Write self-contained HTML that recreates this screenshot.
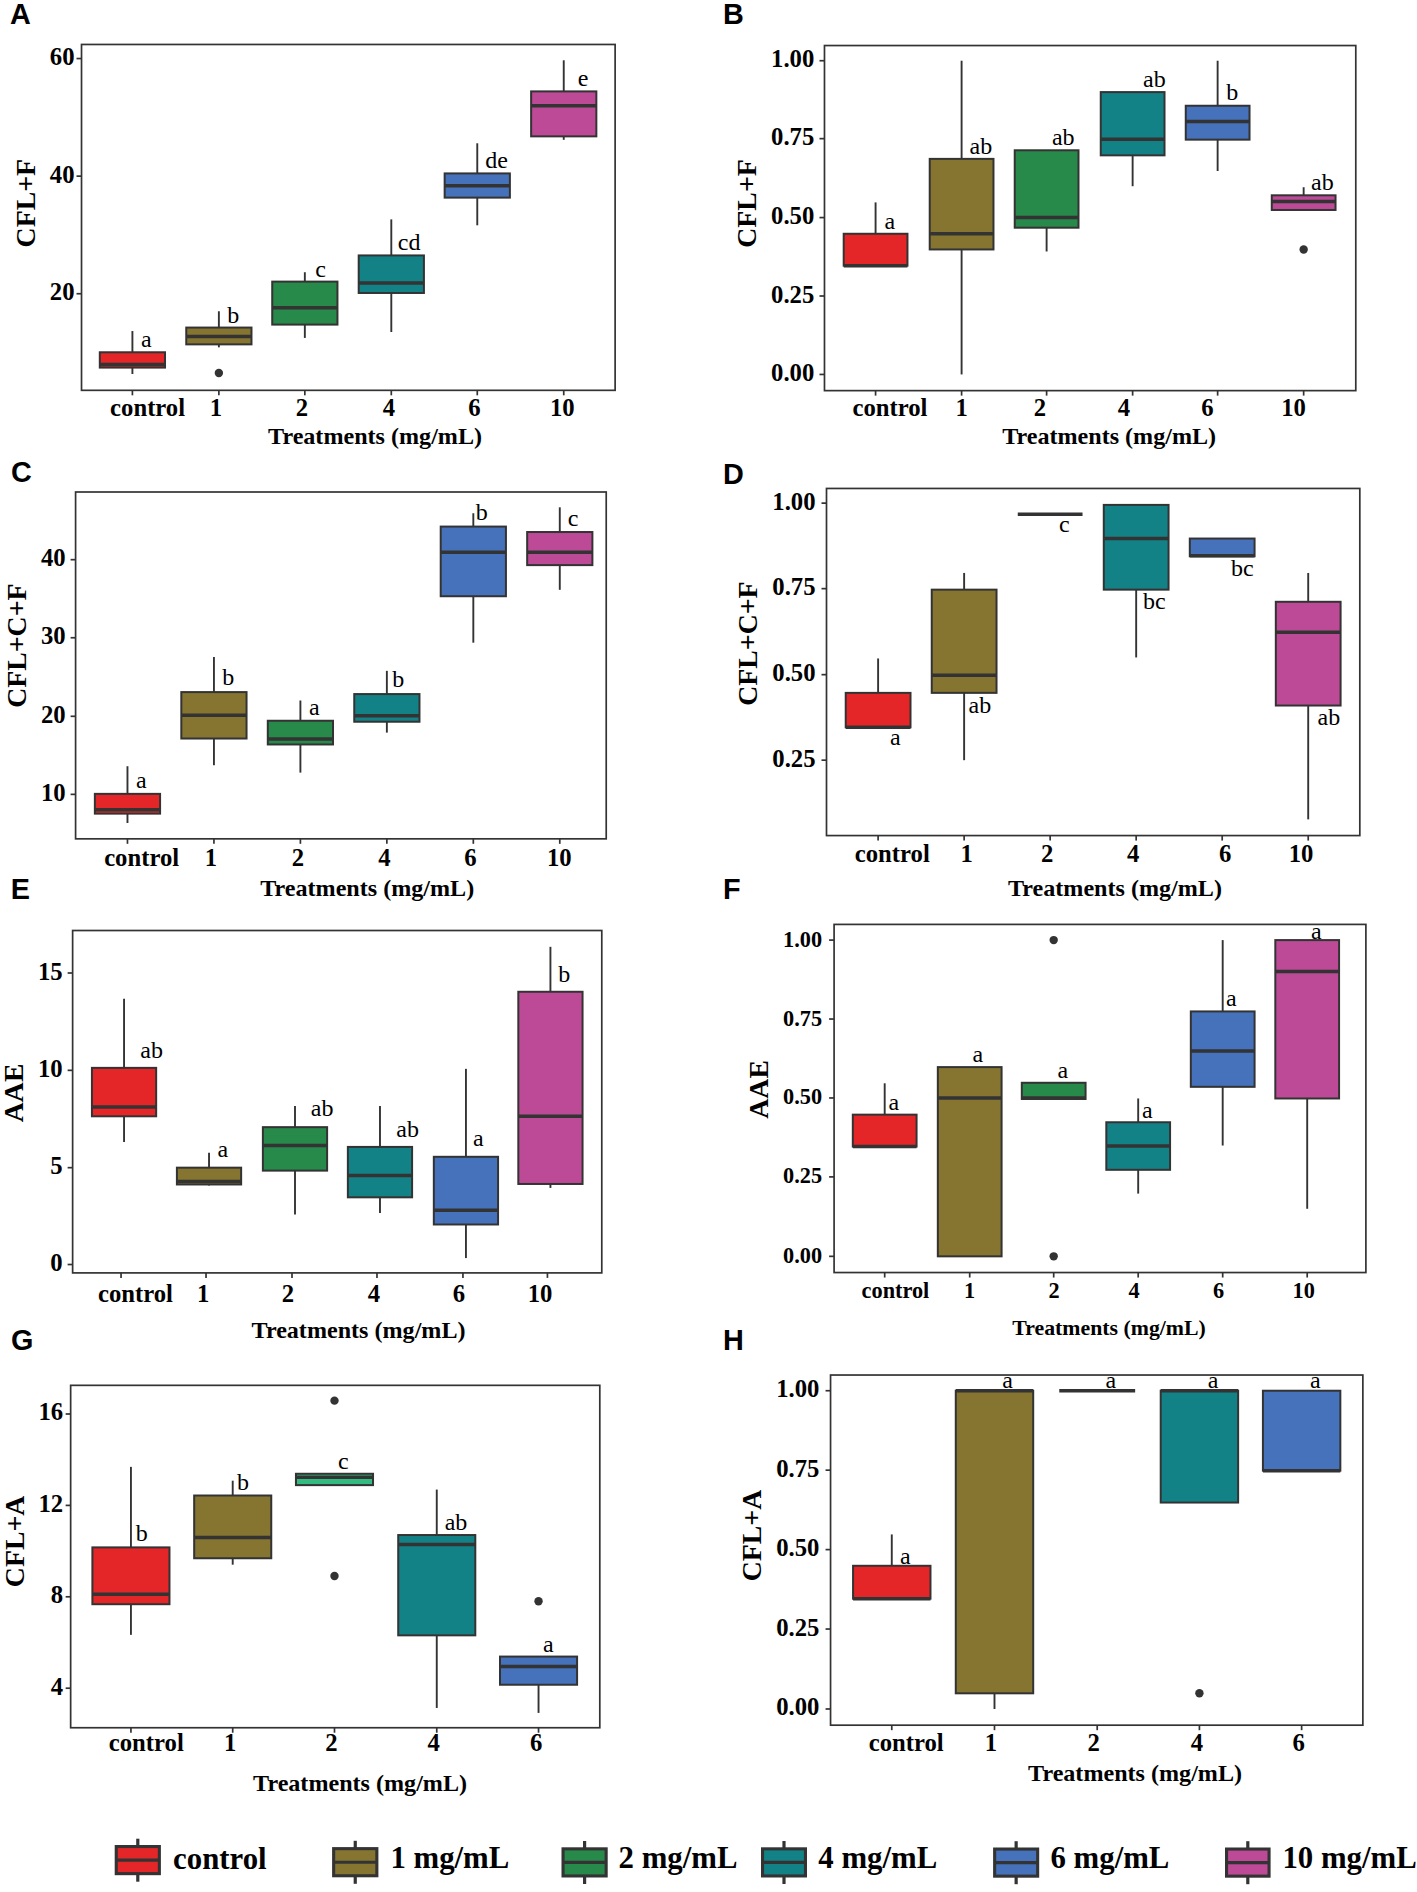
<!DOCTYPE html>
<html><head><meta charset="utf-8"><style>
html,body{margin:0;padding:0;background:#fff;}
svg{display:block;}
.tk{font-family:"Liberation Serif",serif;font-weight:bold;font-size:23.5px;fill:#000;}
.lt{font-family:"Liberation Serif",serif;font-size:24px;fill:#000;}
.tt{font-family:"Liberation Serif",serif;font-weight:bold;font-size:23.7px;fill:#000;}
.yt{font-family:"Liberation Serif",serif;font-weight:bold;font-size:27.8px;fill:#000;}
.pl{font-family:"Liberation Sans",sans-serif;font-weight:bold;font-size:28.8px;fill:#000;}
.lg{font-family:"Liberation Serif",serif;font-weight:bold;font-size:30.8px;fill:#000;}
</style></head><body>
<svg width="1417" height="1892" viewBox="0 0 1417 1892">
<rect width="1417" height="1892" fill="#fff"/>
<line x1="132.41" y1="367.59" x2="132.41" y2="374.01" stroke="#333333" stroke-width="1.9"/>
<line x1="132.41" y1="352.27" x2="132.41" y2="331.03" stroke="#333333" stroke-width="1.9"/>
<rect x="99.80" y="352.27" width="65.22" height="15.32" fill="#E52629" stroke="#333333" stroke-width="2"/>
<line x1="99.80" y1="364.62" x2="165.02" y2="364.62" stroke="#333333" stroke-width="3.5"/>
<line x1="218.87" y1="344.37" x2="218.87" y2="347.33" stroke="#333333" stroke-width="1.9"/>
<line x1="218.87" y1="327.57" x2="218.87" y2="311.26" stroke="#333333" stroke-width="1.9"/>
<rect x="186.26" y="327.57" width="65.22" height="16.80" fill="#857531" stroke="#333333" stroke-width="2"/>
<line x1="186.26" y1="336.46" x2="251.48" y2="336.46" stroke="#333333" stroke-width="3.5"/>
<circle cx="218.87" cy="373.02" r="4.2" fill="#333333"/>
<line x1="304.84" y1="324.60" x2="304.84" y2="337.94" stroke="#333333" stroke-width="1.9"/>
<line x1="304.84" y1="281.62" x2="304.84" y2="272.23" stroke="#333333" stroke-width="1.9"/>
<rect x="272.23" y="281.62" width="65.22" height="42.98" fill="#27894A" stroke="#333333" stroke-width="2"/>
<line x1="272.23" y1="307.81" x2="337.45" y2="307.81" stroke="#333333" stroke-width="3.5"/>
<line x1="391.30" y1="292.98" x2="391.30" y2="332.02" stroke="#333333" stroke-width="1.9"/>
<line x1="391.30" y1="255.43" x2="391.30" y2="219.37" stroke="#333333" stroke-width="1.9"/>
<rect x="358.70" y="255.43" width="65.22" height="37.55" fill="#138287" stroke="#333333" stroke-width="2"/>
<line x1="358.70" y1="283.10" x2="423.91" y2="283.10" stroke="#333333" stroke-width="3.5"/>
<line x1="477.27" y1="197.63" x2="477.27" y2="225.30" stroke="#333333" stroke-width="1.9"/>
<line x1="477.27" y1="173.42" x2="477.27" y2="143.28" stroke="#333333" stroke-width="1.9"/>
<rect x="444.66" y="173.42" width="65.22" height="24.21" fill="#4672BB" stroke="#333333" stroke-width="2"/>
<line x1="444.66" y1="185.77" x2="509.88" y2="185.77" stroke="#333333" stroke-width="3.5"/>
<line x1="563.74" y1="136.36" x2="563.74" y2="139.82" stroke="#333333" stroke-width="1.9"/>
<line x1="563.74" y1="91.40" x2="563.74" y2="60.28" stroke="#333333" stroke-width="1.9"/>
<rect x="531.13" y="91.40" width="65.22" height="44.96" fill="#BD4A96" stroke="#333333" stroke-width="2"/>
<line x1="531.13" y1="105.73" x2="596.34" y2="105.73" stroke="#333333" stroke-width="3.5"/>
<rect x="81.52" y="44.47" width="533.60" height="345.85" fill="none" stroke="#333333" stroke-width="1.7"/>
<line x1="76.52" y1="58.55" x2="81.52" y2="58.55" stroke="#333333" stroke-width="1.7"/>
<text x="74.50" y="65.05" class="tk" style="font-size:24.7px" text-anchor="end">60</text>
<line x1="76.52" y1="176.14" x2="81.52" y2="176.14" stroke="#333333" stroke-width="1.7"/>
<text x="74.50" y="182.64" class="tk" style="font-size:24.7px" text-anchor="end">40</text>
<line x1="76.52" y1="293.73" x2="81.52" y2="293.73" stroke="#333333" stroke-width="1.7"/>
<text x="74.50" y="300.23" class="tk" style="font-size:24.7px" text-anchor="end">20</text>
<line x1="132.41" y1="390.32" x2="132.41" y2="395.32" stroke="#333333" stroke-width="1.7"/>
<line x1="218.87" y1="390.32" x2="218.87" y2="395.32" stroke="#333333" stroke-width="1.7"/>
<line x1="304.84" y1="390.32" x2="304.84" y2="395.32" stroke="#333333" stroke-width="1.7"/>
<line x1="391.30" y1="390.32" x2="391.30" y2="395.32" stroke="#333333" stroke-width="1.7"/>
<line x1="477.27" y1="390.32" x2="477.27" y2="395.32" stroke="#333333" stroke-width="1.7"/>
<line x1="563.74" y1="390.32" x2="563.74" y2="395.32" stroke="#333333" stroke-width="1.7"/>
<text x="110.10" y="416.20" class="tk" style="font-size:24.7px">control</text>
<text x="215.91" y="416.20" class="tk" style="font-size:24.7px" text-anchor="middle">1</text>
<text x="301.88" y="416.20" class="tk" style="font-size:24.7px" text-anchor="middle">2</text>
<text x="388.83" y="416.20" class="tk" style="font-size:24.7px" text-anchor="middle">4</text>
<text x="474.31" y="416.20" class="tk" style="font-size:24.7px" text-anchor="middle">6</text>
<text x="562.25" y="416.20" class="tk" style="font-size:24.7px" text-anchor="middle">10</text>
<text x="146.25" y="346.85" class="lt" text-anchor="middle">a</text>
<text x="233.20" y="323.13" class="lt" text-anchor="middle">b</text>
<text x="320.65" y="276.69" class="lt" text-anchor="middle">c</text>
<text x="409.09" y="250.01" class="lt" text-anchor="middle">cd</text>
<text x="496.54" y="168.00" class="lt" text-anchor="middle">de</text>
<text x="583.00" y="85.98" class="lt" text-anchor="middle">e</text>
<text x="268.10" y="444.00" class="tt" style="font-size:24.1px">Treatments (mg/mL)</text>
<text transform="translate(35.00,203.20) rotate(-90)" class="yt" text-anchor="middle">CFL+F</text>
<text x="10.00" y="24.10" class="pl">A</text>
<line x1="875.58" y1="233.77" x2="875.58" y2="202.40" stroke="#333333" stroke-width="1.9"/>
<rect x="843.70" y="233.77" width="63.76" height="31.88" fill="#E52629" stroke="#333333" stroke-width="2"/>
<line x1="843.70" y1="265.65" x2="907.46" y2="265.65" stroke="#333333" stroke-width="3.5"/>
<line x1="961.60" y1="249.46" x2="961.60" y2="374.44" stroke="#333333" stroke-width="1.9"/>
<line x1="961.60" y1="158.88" x2="961.60" y2="60.72" stroke="#333333" stroke-width="1.9"/>
<rect x="929.72" y="158.88" width="63.76" height="90.57" fill="#857531" stroke="#333333" stroke-width="2"/>
<line x1="929.72" y1="233.77" x2="993.48" y2="233.77" stroke="#333333" stroke-width="3.5"/>
<line x1="1046.61" y1="227.70" x2="1046.61" y2="251.48" stroke="#333333" stroke-width="1.9"/>
<rect x="1014.73" y="150.28" width="63.76" height="77.42" fill="#27894A" stroke="#333333" stroke-width="2"/>
<line x1="1014.73" y1="217.58" x2="1078.49" y2="217.58" stroke="#333333" stroke-width="3.5"/>
<line x1="1132.63" y1="155.34" x2="1132.63" y2="186.21" stroke="#333333" stroke-width="1.9"/>
<rect x="1100.75" y="92.09" width="63.76" height="63.25" fill="#138287" stroke="#333333" stroke-width="2"/>
<line x1="1100.75" y1="139.15" x2="1164.50" y2="139.15" stroke="#333333" stroke-width="3.5"/>
<line x1="1217.63" y1="139.65" x2="1217.63" y2="171.03" stroke="#333333" stroke-width="1.9"/>
<line x1="1217.63" y1="105.75" x2="1217.63" y2="60.72" stroke="#333333" stroke-width="1.9"/>
<rect x="1185.76" y="105.75" width="63.76" height="33.90" fill="#4672BB" stroke="#333333" stroke-width="2"/>
<line x1="1185.76" y1="121.44" x2="1249.51" y2="121.44" stroke="#333333" stroke-width="3.5"/>
<line x1="1303.65" y1="195.31" x2="1303.65" y2="187.22" stroke="#333333" stroke-width="1.9"/>
<rect x="1271.78" y="195.31" width="63.76" height="14.67" fill="#BD4A96" stroke="#333333" stroke-width="2"/>
<line x1="1271.78" y1="201.39" x2="1335.53" y2="201.39" stroke="#333333" stroke-width="3.5"/>
<circle cx="1303.65" cy="249.46" r="4.2" fill="#333333"/>
<rect x="824.48" y="45.54" width="531.30" height="345.09" fill="none" stroke="#333333" stroke-width="1.7"/>
<line x1="819.48" y1="60.72" x2="824.48" y2="60.72" stroke="#333333" stroke-width="1.7"/>
<text x="814.30" y="67.22" class="tk" style="font-size:24.7px" text-anchor="end">1.00</text>
<line x1="819.48" y1="138.64" x2="824.48" y2="138.64" stroke="#333333" stroke-width="1.7"/>
<text x="814.30" y="145.14" class="tk" style="font-size:24.7px" text-anchor="end">0.75</text>
<line x1="819.48" y1="217.58" x2="824.48" y2="217.58" stroke="#333333" stroke-width="1.7"/>
<text x="814.30" y="224.08" class="tk" style="font-size:24.7px" text-anchor="end">0.50</text>
<line x1="819.48" y1="296.01" x2="824.48" y2="296.01" stroke="#333333" stroke-width="1.7"/>
<text x="814.30" y="302.51" class="tk" style="font-size:24.7px" text-anchor="end">0.25</text>
<line x1="819.48" y1="374.44" x2="824.48" y2="374.44" stroke="#333333" stroke-width="1.7"/>
<text x="814.30" y="380.94" class="tk" style="font-size:24.7px" text-anchor="end">0.00</text>
<line x1="875.58" y1="390.63" x2="875.58" y2="395.63" stroke="#333333" stroke-width="1.7"/>
<line x1="961.60" y1="390.63" x2="961.60" y2="395.63" stroke="#333333" stroke-width="1.7"/>
<line x1="1046.61" y1="390.63" x2="1046.61" y2="395.63" stroke="#333333" stroke-width="1.7"/>
<line x1="1132.63" y1="390.63" x2="1132.63" y2="395.63" stroke="#333333" stroke-width="1.7"/>
<line x1="1217.63" y1="390.63" x2="1217.63" y2="395.63" stroke="#333333" stroke-width="1.7"/>
<line x1="1303.65" y1="390.63" x2="1303.65" y2="395.63" stroke="#333333" stroke-width="1.7"/>
<text x="852.50" y="416.10" class="tk" style="font-size:24.7px">control</text>
<text x="961.60" y="416.10" class="tk" style="font-size:24.7px" text-anchor="middle">1</text>
<text x="1040.03" y="416.10" class="tk" style="font-size:24.7px" text-anchor="middle">2</text>
<text x="1124.02" y="416.10" class="tk" style="font-size:24.7px" text-anchor="middle">4</text>
<text x="1207.51" y="416.10" class="tk" style="font-size:24.7px" text-anchor="middle">6</text>
<text x="1293.53" y="416.10" class="tk" style="font-size:24.7px" text-anchor="middle">10</text>
<text x="889.75" y="228.70" class="lt" text-anchor="middle">a</text>
<text x="980.83" y="153.81" class="lt" text-anchor="middle">ab</text>
<text x="1063.31" y="144.70" class="lt" text-anchor="middle">ab</text>
<text x="1154.38" y="87.02" class="lt" text-anchor="middle">ab</text>
<text x="1232.31" y="99.67" class="lt" text-anchor="middle">b</text>
<text x="1322.38" y="190.24" class="lt" text-anchor="middle">ab</text>
<text x="1002.20" y="444.00" class="tt" style="font-size:24.1px">Treatments (mg/mL)</text>
<text transform="translate(756.20,203.50) rotate(-90)" class="yt" text-anchor="middle">CFL+F</text>
<text x="722.90" y="24.10" class="pl">B</text>
<line x1="127.47" y1="813.64" x2="127.47" y2="823.02" stroke="#333333" stroke-width="1.9"/>
<line x1="127.47" y1="793.87" x2="127.47" y2="766.21" stroke="#333333" stroke-width="1.9"/>
<rect x="94.86" y="793.87" width="65.22" height="19.76" fill="#E52629" stroke="#333333" stroke-width="2"/>
<line x1="94.86" y1="809.68" x2="160.08" y2="809.68" stroke="#333333" stroke-width="3.5"/>
<line x1="213.93" y1="738.54" x2="213.93" y2="765.22" stroke="#333333" stroke-width="1.9"/>
<line x1="213.93" y1="692.09" x2="213.93" y2="657.02" stroke="#333333" stroke-width="1.9"/>
<rect x="181.32" y="692.09" width="65.22" height="46.44" fill="#857531" stroke="#333333" stroke-width="2"/>
<line x1="181.32" y1="715.32" x2="246.54" y2="715.32" stroke="#333333" stroke-width="3.5"/>
<line x1="300.40" y1="744.47" x2="300.40" y2="772.63" stroke="#333333" stroke-width="1.9"/>
<line x1="300.40" y1="720.75" x2="300.40" y2="700.49" stroke="#333333" stroke-width="1.9"/>
<rect x="267.79" y="720.75" width="65.22" height="23.72" fill="#27894A" stroke="#333333" stroke-width="2"/>
<line x1="267.79" y1="739.03" x2="333.00" y2="739.03" stroke="#333333" stroke-width="3.5"/>
<line x1="386.86" y1="721.74" x2="386.86" y2="732.61" stroke="#333333" stroke-width="1.9"/>
<line x1="386.86" y1="694.07" x2="386.86" y2="670.85" stroke="#333333" stroke-width="1.9"/>
<rect x="354.25" y="694.07" width="65.22" height="27.67" fill="#138287" stroke="#333333" stroke-width="2"/>
<line x1="354.25" y1="715.81" x2="419.47" y2="715.81" stroke="#333333" stroke-width="3.5"/>
<line x1="473.32" y1="596.25" x2="473.32" y2="642.69" stroke="#333333" stroke-width="1.9"/>
<line x1="473.32" y1="526.58" x2="473.32" y2="513.24" stroke="#333333" stroke-width="1.9"/>
<rect x="440.71" y="526.58" width="65.22" height="69.66" fill="#4672BB" stroke="#333333" stroke-width="2"/>
<line x1="440.71" y1="552.27" x2="505.93" y2="552.27" stroke="#333333" stroke-width="3.5"/>
<line x1="559.78" y1="565.12" x2="559.78" y2="589.82" stroke="#333333" stroke-width="1.9"/>
<line x1="559.78" y1="532.02" x2="559.78" y2="507.31" stroke="#333333" stroke-width="1.9"/>
<rect x="527.17" y="532.02" width="65.22" height="33.10" fill="#BD4A96" stroke="#333333" stroke-width="2"/>
<line x1="527.17" y1="552.27" x2="592.39" y2="552.27" stroke="#333333" stroke-width="3.5"/>
<rect x="75.59" y="492.00" width="530.63" height="346.84" fill="none" stroke="#333333" stroke-width="1.7"/>
<line x1="70.59" y1="559.68" x2="75.59" y2="559.68" stroke="#333333" stroke-width="1.7"/>
<text x="65.60" y="566.18" class="tk" style="font-size:24.7px" text-anchor="end">40</text>
<line x1="70.59" y1="637.75" x2="75.59" y2="637.75" stroke="#333333" stroke-width="1.7"/>
<text x="65.60" y="644.25" class="tk" style="font-size:24.7px" text-anchor="end">30</text>
<line x1="70.59" y1="716.30" x2="75.59" y2="716.30" stroke="#333333" stroke-width="1.7"/>
<text x="65.60" y="722.80" class="tk" style="font-size:24.7px" text-anchor="end">20</text>
<line x1="70.59" y1="794.37" x2="75.59" y2="794.37" stroke="#333333" stroke-width="1.7"/>
<text x="65.60" y="800.87" class="tk" style="font-size:24.7px" text-anchor="end">10</text>
<line x1="127.47" y1="838.83" x2="127.47" y2="843.83" stroke="#333333" stroke-width="1.7"/>
<line x1="213.93" y1="838.83" x2="213.93" y2="843.83" stroke="#333333" stroke-width="1.7"/>
<line x1="300.40" y1="838.83" x2="300.40" y2="843.83" stroke="#333333" stroke-width="1.7"/>
<line x1="386.86" y1="838.83" x2="386.86" y2="843.83" stroke="#333333" stroke-width="1.7"/>
<line x1="473.32" y1="838.83" x2="473.32" y2="843.83" stroke="#333333" stroke-width="1.7"/>
<line x1="559.78" y1="838.83" x2="559.78" y2="843.83" stroke="#333333" stroke-width="1.7"/>
<text x="104.15" y="865.70" class="tk" style="font-size:24.7px">control</text>
<text x="210.97" y="865.70" class="tk" style="font-size:24.7px" text-anchor="middle">1</text>
<text x="297.92" y="865.70" class="tk" style="font-size:24.7px" text-anchor="middle">2</text>
<text x="384.39" y="865.70" class="tk" style="font-size:24.7px" text-anchor="middle">4</text>
<text x="470.36" y="865.70" class="tk" style="font-size:24.7px" text-anchor="middle">6</text>
<text x="559.29" y="865.70" class="tk" style="font-size:24.7px" text-anchor="middle">10</text>
<text x="141.30" y="787.96" class="lt" text-anchor="middle">a</text>
<text x="228.26" y="685.19" class="lt" text-anchor="middle">b</text>
<text x="314.23" y="714.83" class="lt" text-anchor="middle">a</text>
<text x="398.22" y="687.17" class="lt" text-anchor="middle">b</text>
<text x="481.72" y="520.17" class="lt" text-anchor="middle">b</text>
<text x="573.12" y="526.10" class="lt" text-anchor="middle">c</text>
<text x="260.30" y="896.10" class="tt" style="font-size:24.1px">Treatments (mg/mL)</text>
<text transform="translate(25.90,645.70) rotate(-90)" class="yt" text-anchor="middle">CFL+C+F</text>
<text x="11.00" y="482.30" class="pl">C</text>
<line x1="878.11" y1="692.88" x2="878.11" y2="658.47" stroke="#333333" stroke-width="1.9"/>
<rect x="845.73" y="692.88" width="64.77" height="34.41" fill="#E52629" stroke="#333333" stroke-width="2"/>
<line x1="845.73" y1="727.29" x2="910.49" y2="727.29" stroke="#333333" stroke-width="3.5"/>
<line x1="964.13" y1="692.88" x2="964.13" y2="760.18" stroke="#333333" stroke-width="1.9"/>
<line x1="964.13" y1="589.65" x2="964.13" y2="572.96" stroke="#333333" stroke-width="1.9"/>
<rect x="931.75" y="589.65" width="64.77" height="103.22" fill="#857531" stroke="#333333" stroke-width="2"/>
<line x1="931.75" y1="675.17" x2="996.51" y2="675.17" stroke="#333333" stroke-width="3.5"/>
<line x1="1017.77" y1="514.26" x2="1082.53" y2="514.26" stroke="#333333" stroke-width="3.5"/>
<line x1="1136.17" y1="589.65" x2="1136.17" y2="657.46" stroke="#333333" stroke-width="1.9"/>
<rect x="1103.78" y="504.90" width="64.77" height="84.75" fill="#138287" stroke="#333333" stroke-width="2"/>
<line x1="1103.78" y1="538.55" x2="1168.55" y2="538.55" stroke="#333333" stroke-width="3.5"/>
<rect x="1189.80" y="538.55" width="64.77" height="17.71" fill="#4672BB" stroke="#333333" stroke-width="2"/>
<line x1="1189.80" y1="555.75" x2="1254.57" y2="555.75" stroke="#333333" stroke-width="3.5"/>
<line x1="1308.21" y1="705.53" x2="1308.21" y2="819.38" stroke="#333333" stroke-width="1.9"/>
<line x1="1308.21" y1="601.80" x2="1308.21" y2="572.96" stroke="#333333" stroke-width="1.9"/>
<rect x="1275.82" y="601.80" width="64.77" height="103.73" fill="#BD4A96" stroke="#333333" stroke-width="2"/>
<line x1="1275.82" y1="632.16" x2="1340.59" y2="632.16" stroke="#333333" stroke-width="3.5"/>
<rect x="826.50" y="488.46" width="533.32" height="347.11" fill="none" stroke="#333333" stroke-width="1.7"/>
<line x1="821.50" y1="503.13" x2="826.50" y2="503.13" stroke="#333333" stroke-width="1.7"/>
<text x="815.50" y="509.63" class="tk" style="font-size:24.7px" text-anchor="end">1.00</text>
<line x1="821.50" y1="588.64" x2="826.50" y2="588.64" stroke="#333333" stroke-width="1.7"/>
<text x="815.50" y="595.14" class="tk" style="font-size:24.7px" text-anchor="end">0.75</text>
<line x1="821.50" y1="674.66" x2="826.50" y2="674.66" stroke="#333333" stroke-width="1.7"/>
<text x="815.50" y="681.16" class="tk" style="font-size:24.7px" text-anchor="end">0.50</text>
<line x1="821.50" y1="760.18" x2="826.50" y2="760.18" stroke="#333333" stroke-width="1.7"/>
<text x="815.50" y="766.68" class="tk" style="font-size:24.7px" text-anchor="end">0.25</text>
<line x1="878.11" y1="835.57" x2="878.11" y2="840.57" stroke="#333333" stroke-width="1.7"/>
<line x1="964.13" y1="835.57" x2="964.13" y2="840.57" stroke="#333333" stroke-width="1.7"/>
<line x1="1050.15" y1="835.57" x2="1050.15" y2="840.57" stroke="#333333" stroke-width="1.7"/>
<line x1="1136.17" y1="835.57" x2="1136.17" y2="840.57" stroke="#333333" stroke-width="1.7"/>
<line x1="1222.19" y1="835.57" x2="1222.19" y2="840.57" stroke="#333333" stroke-width="1.7"/>
<line x1="1308.21" y1="835.57" x2="1308.21" y2="840.57" stroke="#333333" stroke-width="1.7"/>
<text x="854.80" y="861.80" class="tk" style="font-size:24.7px">control</text>
<text x="966.66" y="861.80" class="tk" style="font-size:24.7px" text-anchor="middle">1</text>
<text x="1047.11" y="861.80" class="tk" style="font-size:24.7px" text-anchor="middle">2</text>
<text x="1133.13" y="861.80" class="tk" style="font-size:24.7px" text-anchor="middle">4</text>
<text x="1225.22" y="861.80" class="tk" style="font-size:24.7px" text-anchor="middle">6</text>
<text x="1301.12" y="861.80" class="tk" style="font-size:24.7px" text-anchor="middle">10</text>
<text x="895.31" y="745.49" class="lt" text-anchor="middle">a</text>
<text x="979.82" y="712.60" class="lt" text-anchor="middle">ab</text>
<text x="1064.32" y="531.96" class="lt" text-anchor="middle">c</text>
<text x="1154.38" y="608.87" class="lt" text-anchor="middle">bc</text>
<text x="1242.43" y="576.49" class="lt" text-anchor="middle">bc</text>
<text x="1328.95" y="725.25" class="lt" text-anchor="middle">ab</text>
<text x="1008.05" y="896.10" class="tt" style="font-size:24.1px">Treatments (mg/mL)</text>
<text transform="translate(756.60,643.60) rotate(-90)" class="yt" text-anchor="middle">CFL+C+F</text>
<text x="722.90" y="484.20" class="pl">D</text>
<line x1="124.05" y1="1116.28" x2="124.05" y2="1141.98" stroke="#333333" stroke-width="1.9"/>
<line x1="124.05" y1="1067.87" x2="124.05" y2="998.70" stroke="#333333" stroke-width="1.9"/>
<rect x="91.93" y="1067.87" width="64.23" height="48.42" fill="#E52629" stroke="#333333" stroke-width="2"/>
<line x1="91.93" y1="1106.90" x2="156.16" y2="1106.90" stroke="#333333" stroke-width="3.5"/>
<line x1="209.03" y1="1184.47" x2="209.03" y2="1185.45" stroke="#333333" stroke-width="1.9"/>
<line x1="209.03" y1="1167.67" x2="209.03" y2="1152.85" stroke="#333333" stroke-width="1.9"/>
<rect x="176.91" y="1167.67" width="64.23" height="16.80" fill="#857531" stroke="#333333" stroke-width="2"/>
<line x1="176.91" y1="1181.50" x2="241.14" y2="1181.50" stroke="#333333" stroke-width="3.5"/>
<line x1="295.00" y1="1170.63" x2="295.00" y2="1214.60" stroke="#333333" stroke-width="1.9"/>
<line x1="295.00" y1="1127.15" x2="295.00" y2="1105.91" stroke="#333333" stroke-width="1.9"/>
<rect x="262.88" y="1127.15" width="64.23" height="43.48" fill="#27894A" stroke="#333333" stroke-width="2"/>
<line x1="262.88" y1="1145.43" x2="327.11" y2="1145.43" stroke="#333333" stroke-width="3.5"/>
<line x1="379.98" y1="1197.31" x2="379.98" y2="1213.12" stroke="#333333" stroke-width="1.9"/>
<line x1="379.98" y1="1146.92" x2="379.98" y2="1105.91" stroke="#333333" stroke-width="1.9"/>
<rect x="347.86" y="1146.92" width="64.23" height="50.40" fill="#138287" stroke="#333333" stroke-width="2"/>
<line x1="347.86" y1="1175.57" x2="412.09" y2="1175.57" stroke="#333333" stroke-width="3.5"/>
<line x1="465.94" y1="1224.49" x2="465.94" y2="1258.08" stroke="#333333" stroke-width="1.9"/>
<line x1="465.94" y1="1156.80" x2="465.94" y2="1068.85" stroke="#333333" stroke-width="1.9"/>
<rect x="433.83" y="1156.80" width="64.23" height="67.69" fill="#4672BB" stroke="#333333" stroke-width="2"/>
<line x1="433.83" y1="1210.16" x2="498.06" y2="1210.16" stroke="#333333" stroke-width="3.5"/>
<line x1="550.43" y1="1183.97" x2="550.43" y2="1187.92" stroke="#333333" stroke-width="1.9"/>
<line x1="550.43" y1="991.78" x2="550.43" y2="946.82" stroke="#333333" stroke-width="1.9"/>
<rect x="518.32" y="991.78" width="64.23" height="192.19" fill="#BD4A96" stroke="#333333" stroke-width="2"/>
<line x1="518.32" y1="1116.28" x2="582.55" y2="1116.28" stroke="#333333" stroke-width="3.5"/>
<rect x="72.63" y="930.51" width="529.15" height="342.39" fill="none" stroke="#333333" stroke-width="1.7"/>
<line x1="67.63" y1="973.00" x2="72.63" y2="973.00" stroke="#333333" stroke-width="1.7"/>
<text x="62.70" y="979.50" class="tk" style="font-size:24.7px" text-anchor="end">15</text>
<line x1="67.63" y1="1070.34" x2="72.63" y2="1070.34" stroke="#333333" stroke-width="1.7"/>
<text x="62.70" y="1076.84" class="tk" style="font-size:24.7px" text-anchor="end">10</text>
<line x1="67.63" y1="1167.67" x2="72.63" y2="1167.67" stroke="#333333" stroke-width="1.7"/>
<text x="62.70" y="1174.17" class="tk" style="font-size:24.7px" text-anchor="end">5</text>
<line x1="67.63" y1="1264.51" x2="72.63" y2="1264.51" stroke="#333333" stroke-width="1.7"/>
<text x="62.70" y="1271.01" class="tk" style="font-size:24.7px" text-anchor="end">0</text>
<line x1="121.05" y1="1272.91" x2="121.05" y2="1277.91" stroke="#333333" stroke-width="1.7"/>
<line x1="206.03" y1="1272.91" x2="206.03" y2="1277.91" stroke="#333333" stroke-width="1.7"/>
<line x1="292.00" y1="1272.91" x2="292.00" y2="1277.91" stroke="#333333" stroke-width="1.7"/>
<line x1="376.98" y1="1272.91" x2="376.98" y2="1277.91" stroke="#333333" stroke-width="1.7"/>
<line x1="462.94" y1="1272.91" x2="462.94" y2="1277.91" stroke="#333333" stroke-width="1.7"/>
<line x1="547.43" y1="1272.91" x2="547.43" y2="1277.91" stroke="#333333" stroke-width="1.7"/>
<text x="98.00" y="1301.80" class="tk" style="font-size:24.7px">control</text>
<text x="203.06" y="1301.80" class="tk" style="font-size:24.7px" text-anchor="middle">1</text>
<text x="288.04" y="1301.80" class="tk" style="font-size:24.7px" text-anchor="middle">2</text>
<text x="374.01" y="1301.80" class="tk" style="font-size:24.7px" text-anchor="middle">4</text>
<text x="458.99" y="1301.80" class="tk" style="font-size:24.7px" text-anchor="middle">6</text>
<text x="540.02" y="1301.80" class="tk" style="font-size:24.7px" text-anchor="middle">10</text>
<text x="151.68" y="1057.50" class="lt" text-anchor="middle">ab</text>
<text x="222.83" y="1157.30" class="lt" text-anchor="middle">a</text>
<text x="322.13" y="1116.30" class="lt" text-anchor="middle">ab</text>
<text x="407.61" y="1136.55" class="lt" text-anchor="middle">ab</text>
<text x="478.26" y="1146.43" class="lt" text-anchor="middle">a</text>
<text x="564.23" y="981.91" class="lt" text-anchor="middle">b</text>
<text x="251.60" y="1338.10" class="tt" style="font-size:24.1px">Treatments (mg/mL)</text>
<text transform="translate(22.70,1092.90) rotate(-90)" class="yt" text-anchor="middle">AAE</text>
<text x="10.80" y="899.00" class="pl">E</text>
<line x1="884.69" y1="1114.66" x2="884.69" y2="1083.29" stroke="#333333" stroke-width="1.9"/>
<rect x="852.81" y="1114.66" width="63.76" height="31.88" fill="#E52629" stroke="#333333" stroke-width="2"/>
<line x1="852.81" y1="1146.54" x2="916.57" y2="1146.54" stroke="#333333" stroke-width="3.5"/>
<rect x="937.82" y="1067.10" width="63.76" height="189.24" fill="#857531" stroke="#333333" stroke-width="2"/>
<line x1="937.82" y1="1097.96" x2="1001.57" y2="1097.96" stroke="#333333" stroke-width="3.5"/>
<rect x="1021.81" y="1082.78" width="63.76" height="16.19" fill="#27894A" stroke="#333333" stroke-width="2"/>
<line x1="1021.81" y1="1097.96" x2="1085.57" y2="1097.96" stroke="#333333" stroke-width="3.5"/>
<circle cx="1053.69" cy="940.09" r="4.2" fill="#333333"/>
<circle cx="1053.69" cy="1256.34" r="4.2" fill="#333333"/>
<line x1="1138.19" y1="1169.82" x2="1138.19" y2="1193.60" stroke="#333333" stroke-width="1.9"/>
<line x1="1138.19" y1="1122.25" x2="1138.19" y2="1098.47" stroke="#333333" stroke-width="1.9"/>
<rect x="1106.31" y="1122.25" width="63.76" height="47.56" fill="#138287" stroke="#333333" stroke-width="2"/>
<line x1="1106.31" y1="1146.03" x2="1170.07" y2="1146.03" stroke="#333333" stroke-width="3.5"/>
<line x1="1222.69" y1="1086.83" x2="1222.69" y2="1145.53" stroke="#333333" stroke-width="1.9"/>
<line x1="1222.69" y1="1011.44" x2="1222.69" y2="940.09" stroke="#333333" stroke-width="1.9"/>
<rect x="1190.82" y="1011.44" width="63.76" height="75.39" fill="#4672BB" stroke="#333333" stroke-width="2"/>
<line x1="1190.82" y1="1050.91" x2="1254.57" y2="1050.91" stroke="#333333" stroke-width="3.5"/>
<line x1="1307.20" y1="1098.47" x2="1307.20" y2="1208.78" stroke="#333333" stroke-width="1.9"/>
<rect x="1275.32" y="940.09" width="63.76" height="158.38" fill="#BD4A96" stroke="#333333" stroke-width="2"/>
<line x1="1275.32" y1="971.47" x2="1339.07" y2="971.47" stroke="#333333" stroke-width="3.5"/>
<rect x="834.09" y="924.41" width="531.80" height="348.13" fill="none" stroke="#333333" stroke-width="1.7"/>
<line x1="829.09" y1="940.09" x2="834.09" y2="940.09" stroke="#333333" stroke-width="1.7"/>
<text x="822.10" y="946.59" class="tk" style="font-size:22.3px" text-anchor="end">1.00</text>
<line x1="829.09" y1="1019.03" x2="834.09" y2="1019.03" stroke="#333333" stroke-width="1.7"/>
<text x="822.10" y="1025.53" class="tk" style="font-size:22.3px" text-anchor="end">0.75</text>
<line x1="829.09" y1="1097.96" x2="834.09" y2="1097.96" stroke="#333333" stroke-width="1.7"/>
<text x="822.10" y="1104.46" class="tk" style="font-size:22.3px" text-anchor="end">0.50</text>
<line x1="829.09" y1="1176.90" x2="834.09" y2="1176.90" stroke="#333333" stroke-width="1.7"/>
<text x="822.10" y="1183.40" class="tk" style="font-size:22.3px" text-anchor="end">0.25</text>
<line x1="829.09" y1="1256.34" x2="834.09" y2="1256.34" stroke="#333333" stroke-width="1.7"/>
<text x="822.10" y="1262.84" class="tk" style="font-size:22.3px" text-anchor="end">0.00</text>
<line x1="884.69" y1="1272.53" x2="884.69" y2="1277.53" stroke="#333333" stroke-width="1.7"/>
<line x1="969.70" y1="1272.53" x2="969.70" y2="1277.53" stroke="#333333" stroke-width="1.7"/>
<line x1="1053.69" y1="1272.53" x2="1053.69" y2="1277.53" stroke="#333333" stroke-width="1.7"/>
<line x1="1138.19" y1="1272.53" x2="1138.19" y2="1277.53" stroke="#333333" stroke-width="1.7"/>
<line x1="1222.69" y1="1272.53" x2="1222.69" y2="1277.53" stroke="#333333" stroke-width="1.7"/>
<line x1="1307.20" y1="1272.53" x2="1307.20" y2="1277.53" stroke="#333333" stroke-width="1.7"/>
<text x="861.60" y="1298.20" class="tk" style="font-size:22.3px">control</text>
<text x="969.70" y="1298.20" class="tk" style="font-size:22.3px" text-anchor="middle">1</text>
<text x="1054.20" y="1298.20" class="tk" style="font-size:22.3px" text-anchor="middle">2</text>
<text x="1134.14" y="1298.20" class="tk" style="font-size:22.3px" text-anchor="middle">4</text>
<text x="1218.65" y="1298.20" class="tk" style="font-size:22.3px" text-anchor="middle">6</text>
<text x="1303.65" y="1298.20" class="tk" style="font-size:22.3px" text-anchor="middle">10</text>
<text x="893.80" y="1109.59" class="lt" text-anchor="middle">a</text>
<text x="977.79" y="1061.52" class="lt" text-anchor="middle">a</text>
<text x="1062.80" y="1077.71" class="lt" text-anchor="middle">a</text>
<text x="1147.30" y="1117.69" class="lt" text-anchor="middle">a</text>
<text x="1231.30" y="1006.37" class="lt" text-anchor="middle">a</text>
<text x="1316.30" y="938.56" class="lt" text-anchor="middle">a</text>
<text x="1012.30" y="1334.80" class="tt" style="font-size:21.8px">Treatments (mg/mL)</text>
<text transform="translate(767.70,1089.40) rotate(-90)" class="yt" text-anchor="middle">AAE</text>
<text x="722.90" y="898.80" class="pl">F</text>
<line x1="130.93" y1="1604.21" x2="130.93" y2="1634.84" stroke="#333333" stroke-width="1.9"/>
<line x1="130.93" y1="1547.39" x2="130.93" y2="1466.86" stroke="#333333" stroke-width="1.9"/>
<rect x="92.39" y="1547.39" width="77.08" height="56.82" fill="#E52629" stroke="#333333" stroke-width="2"/>
<line x1="92.39" y1="1594.33" x2="169.47" y2="1594.33" stroke="#333333" stroke-width="3.5"/>
<line x1="232.71" y1="1558.26" x2="232.71" y2="1564.68" stroke="#333333" stroke-width="1.9"/>
<line x1="232.71" y1="1495.51" x2="232.71" y2="1480.69" stroke="#333333" stroke-width="1.9"/>
<rect x="194.17" y="1495.51" width="77.08" height="62.75" fill="#857531" stroke="#333333" stroke-width="2"/>
<line x1="194.17" y1="1537.51" x2="271.25" y2="1537.51" stroke="#333333" stroke-width="3.5"/>
<rect x="295.95" y="1473.77" width="77.08" height="11.36" fill="#34BC80" stroke="#333333" stroke-width="2"/>
<line x1="295.95" y1="1477.23" x2="373.02" y2="1477.23" stroke="#333333" stroke-width="3.5"/>
<circle cx="334.49" cy="1400.65" r="4.2" fill="#333333"/>
<circle cx="334.49" cy="1576.05" r="4.2" fill="#333333"/>
<line x1="436.76" y1="1635.34" x2="436.76" y2="1707.96" stroke="#333333" stroke-width="1.9"/>
<line x1="436.76" y1="1535.04" x2="436.76" y2="1489.58" stroke="#333333" stroke-width="1.9"/>
<rect x="398.22" y="1535.04" width="77.08" height="100.30" fill="#138287" stroke="#333333" stroke-width="2"/>
<line x1="398.22" y1="1544.43" x2="475.30" y2="1544.43" stroke="#333333" stroke-width="3.5"/>
<line x1="538.54" y1="1684.74" x2="538.54" y2="1712.91" stroke="#333333" stroke-width="1.9"/>
<rect x="500.00" y="1656.58" width="77.08" height="28.16" fill="#4672BB" stroke="#333333" stroke-width="2"/>
<line x1="500.00" y1="1666.46" x2="577.08" y2="1666.46" stroke="#333333" stroke-width="3.5"/>
<circle cx="538.54" cy="1601.25" r="4.2" fill="#333333"/>
<rect x="70.65" y="1385.34" width="529.15" height="342.39" fill="none" stroke="#333333" stroke-width="1.7"/>
<line x1="65.65" y1="1413.99" x2="70.65" y2="1413.99" stroke="#333333" stroke-width="1.7"/>
<text x="63.10" y="1420.49" class="tk" style="font-size:24.7px" text-anchor="end">16</text>
<line x1="65.65" y1="1505.40" x2="70.65" y2="1505.40" stroke="#333333" stroke-width="1.7"/>
<text x="63.10" y="1511.90" class="tk" style="font-size:24.7px" text-anchor="end">12</text>
<line x1="65.65" y1="1596.80" x2="70.65" y2="1596.80" stroke="#333333" stroke-width="1.7"/>
<text x="63.10" y="1603.30" class="tk" style="font-size:24.7px" text-anchor="end">8</text>
<line x1="65.65" y1="1688.20" x2="70.65" y2="1688.20" stroke="#333333" stroke-width="1.7"/>
<text x="63.10" y="1694.70" class="tk" style="font-size:24.7px" text-anchor="end">4</text>
<line x1="130.93" y1="1727.73" x2="130.93" y2="1732.73" stroke="#333333" stroke-width="1.7"/>
<line x1="232.71" y1="1727.73" x2="232.71" y2="1732.73" stroke="#333333" stroke-width="1.7"/>
<line x1="334.49" y1="1727.73" x2="334.49" y2="1732.73" stroke="#333333" stroke-width="1.7"/>
<line x1="436.76" y1="1727.73" x2="436.76" y2="1732.73" stroke="#333333" stroke-width="1.7"/>
<line x1="538.54" y1="1727.73" x2="538.54" y2="1732.73" stroke="#333333" stroke-width="1.7"/>
<text x="108.80" y="1751.40" class="tk" style="font-size:24.7px">control</text>
<text x="230.24" y="1751.40" class="tk" style="font-size:24.7px" text-anchor="middle">1</text>
<text x="331.52" y="1751.40" class="tk" style="font-size:24.7px" text-anchor="middle">2</text>
<text x="433.79" y="1751.40" class="tk" style="font-size:24.7px" text-anchor="middle">4</text>
<text x="536.07" y="1751.40" class="tk" style="font-size:24.7px" text-anchor="middle">6</text>
<text x="141.80" y="1540.98" class="lt" text-anchor="middle">b</text>
<text x="243.08" y="1490.09" class="lt" text-anchor="middle">b</text>
<text x="343.38" y="1468.85" class="lt" text-anchor="middle">c</text>
<text x="456.03" y="1529.62" class="lt" text-anchor="middle">ab</text>
<text x="548.42" y="1651.65" class="lt" text-anchor="middle">a</text>
<text x="253.10" y="1790.55" class="tt" style="font-size:24.1px">Treatments (mg/mL)</text>
<text transform="translate(23.50,1541.40) rotate(-90)" class="yt" text-anchor="middle">CFL+A</text>
<text x="11.00" y="1350.00" class="pl">G</text>
<line x1="891.77" y1="1565.79" x2="891.77" y2="1534.42" stroke="#333333" stroke-width="1.9"/>
<rect x="853.06" y="1565.79" width="77.42" height="32.89" fill="#E52629" stroke="#333333" stroke-width="2"/>
<line x1="853.06" y1="1598.68" x2="930.48" y2="1598.68" stroke="#333333" stroke-width="3.5"/>
<line x1="994.49" y1="1693.31" x2="994.49" y2="1708.99" stroke="#333333" stroke-width="1.9"/>
<rect x="955.78" y="1390.72" width="77.42" height="302.59" fill="#857531" stroke="#333333" stroke-width="2"/>
<line x1="955.78" y1="1390.72" x2="1033.20" y2="1390.72" stroke="#333333" stroke-width="3.5"/>
<line x1="1059.26" y1="1390.72" x2="1135.16" y2="1390.72" stroke="#333333" stroke-width="3.5"/>
<rect x="1160.71" y="1390.72" width="77.42" height="111.83" fill="#138287" stroke="#333333" stroke-width="2"/>
<line x1="1160.71" y1="1390.72" x2="1238.13" y2="1390.72" stroke="#333333" stroke-width="3.5"/>
<circle cx="1199.42" cy="1693.31" r="4.2" fill="#333333"/>
<rect x="1262.92" y="1390.72" width="77.42" height="79.95" fill="#4672BB" stroke="#333333" stroke-width="2"/>
<line x1="1262.92" y1="1470.67" x2="1340.34" y2="1470.67" stroke="#333333" stroke-width="3.5"/>
<rect x="830.55" y="1375.03" width="532.31" height="350.15" fill="none" stroke="#333333" stroke-width="1.7"/>
<line x1="825.55" y1="1390.72" x2="830.55" y2="1390.72" stroke="#333333" stroke-width="1.7"/>
<text x="819.40" y="1397.22" class="tk" style="font-size:24.7px" text-anchor="end">1.00</text>
<line x1="825.55" y1="1470.16" x2="830.55" y2="1470.16" stroke="#333333" stroke-width="1.7"/>
<text x="819.40" y="1476.66" class="tk" style="font-size:24.7px" text-anchor="end">0.75</text>
<line x1="825.55" y1="1549.60" x2="830.55" y2="1549.60" stroke="#333333" stroke-width="1.7"/>
<text x="819.40" y="1556.10" class="tk" style="font-size:24.7px" text-anchor="end">0.50</text>
<line x1="825.55" y1="1629.04" x2="830.55" y2="1629.04" stroke="#333333" stroke-width="1.7"/>
<text x="819.40" y="1635.54" class="tk" style="font-size:24.7px" text-anchor="end">0.25</text>
<line x1="825.55" y1="1708.99" x2="830.55" y2="1708.99" stroke="#333333" stroke-width="1.7"/>
<text x="819.40" y="1715.49" class="tk" style="font-size:24.7px" text-anchor="end">0.00</text>
<line x1="891.77" y1="1725.18" x2="891.77" y2="1730.18" stroke="#333333" stroke-width="1.7"/>
<line x1="994.49" y1="1725.18" x2="994.49" y2="1730.18" stroke="#333333" stroke-width="1.7"/>
<line x1="1097.21" y1="1725.18" x2="1097.21" y2="1730.18" stroke="#333333" stroke-width="1.7"/>
<line x1="1199.42" y1="1725.18" x2="1199.42" y2="1730.18" stroke="#333333" stroke-width="1.7"/>
<line x1="1301.63" y1="1725.18" x2="1301.63" y2="1730.18" stroke="#333333" stroke-width="1.7"/>
<text x="868.70" y="1751.40" class="tk" style="font-size:24.7px">control</text>
<text x="990.95" y="1751.40" class="tk" style="font-size:24.7px" text-anchor="middle">1</text>
<text x="1093.66" y="1751.40" class="tk" style="font-size:24.7px" text-anchor="middle">2</text>
<text x="1196.89" y="1751.40" class="tk" style="font-size:24.7px" text-anchor="middle">4</text>
<text x="1298.59" y="1751.40" class="tk" style="font-size:24.7px" text-anchor="middle">6</text>
<text x="905.43" y="1563.76" class="lt" text-anchor="middle">a</text>
<text x="1007.65" y="1387.67" class="lt" text-anchor="middle">a</text>
<text x="1110.87" y="1387.67" class="lt" text-anchor="middle">a</text>
<text x="1213.08" y="1387.67" class="lt" text-anchor="middle">a</text>
<text x="1315.29" y="1387.67" class="lt" text-anchor="middle">a</text>
<text x="1028.10" y="1781.10" class="tt" style="font-size:24.1px">Treatments (mg/mL)</text>
<text transform="translate(760.80,1535.50) rotate(-90)" class="yt" text-anchor="middle">CFL+A</text>
<text x="722.90" y="1349.60" class="pl">H</text>
<line x1="137.80" y1="1838.70" x2="137.80" y2="1881.70" stroke="#333333" stroke-width="3.2"/>
<rect x="116.25" y="1846.55" width="43.10" height="27.10" fill="#E52629" stroke="#333333" stroke-width="3.1"/>
<line x1="116.25" y1="1860.10" x2="159.35" y2="1860.10" stroke="#333333" stroke-width="3.1"/>
<text x="173.10" y="1868.70" class="lg">control</text>
<line x1="355.25" y1="1840.80" x2="355.25" y2="1883.80" stroke="#333333" stroke-width="3.2"/>
<rect x="333.65" y="1848.65" width="43.20" height="27.10" fill="#857531" stroke="#333333" stroke-width="3.1"/>
<line x1="333.65" y1="1862.20" x2="376.85" y2="1862.20" stroke="#333333" stroke-width="3.1"/>
<text x="390.40" y="1868.00" class="lg">1 mg/mL</text>
<line x1="584.60" y1="1841.00" x2="584.60" y2="1884.00" stroke="#333333" stroke-width="3.2"/>
<rect x="563.05" y="1848.85" width="43.10" height="27.10" fill="#27894A" stroke="#333333" stroke-width="3.1"/>
<line x1="563.05" y1="1862.40" x2="606.15" y2="1862.40" stroke="#333333" stroke-width="3.1"/>
<text x="618.60" y="1868.00" class="lg">2 mg/mL</text>
<line x1="784.00" y1="1841.00" x2="784.00" y2="1884.00" stroke="#333333" stroke-width="3.2"/>
<rect x="762.55" y="1848.85" width="42.90" height="27.10" fill="#138287" stroke="#333333" stroke-width="3.1"/>
<line x1="762.55" y1="1862.40" x2="805.45" y2="1862.40" stroke="#333333" stroke-width="3.1"/>
<text x="818.30" y="1868.00" class="lg">4 mg/mL</text>
<line x1="1016.15" y1="1841.20" x2="1016.15" y2="1884.20" stroke="#333333" stroke-width="3.2"/>
<rect x="994.65" y="1849.05" width="43.00" height="27.10" fill="#4672BB" stroke="#333333" stroke-width="3.1"/>
<line x1="994.65" y1="1862.60" x2="1037.65" y2="1862.60" stroke="#333333" stroke-width="3.1"/>
<text x="1050.50" y="1867.50" class="lg">6 mg/mL</text>
<line x1="1247.80" y1="1841.20" x2="1247.80" y2="1884.20" stroke="#333333" stroke-width="3.2"/>
<rect x="1226.55" y="1849.05" width="42.50" height="27.10" fill="#BD4A96" stroke="#333333" stroke-width="3.1"/>
<line x1="1226.55" y1="1862.60" x2="1269.05" y2="1862.60" stroke="#333333" stroke-width="3.1"/>
<text x="1282.40" y="1867.50" class="lg">10 mg/mL</text>
</svg></body></html>
